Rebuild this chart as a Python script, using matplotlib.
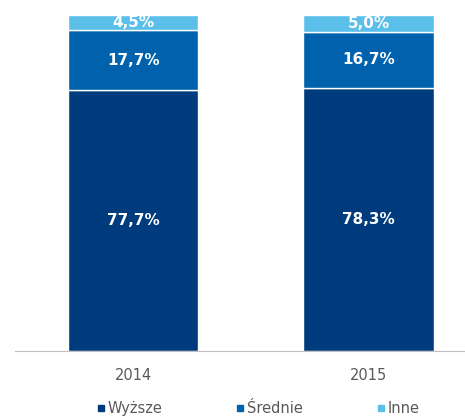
import numpy as np
import matplotlib.pyplot as plt
from matplotlib.lines import Line2D

years = ["2014", "2015"]
series = ["Wyższe", "Średnie", "Inne"]
wyzsze = [77.7, 78.3]
srednie = [17.7, 16.7]
inne = [4.5, 5.0]
colors = ["#003B7E", "#0062AC", "#5BBFEA"]

fig = plt.figure(figsize=(4.65, 4.18), dpi=100)
ax = fig.add_axes([15 / 465, 67 / 418, 450 / 465, 336 / 418])

x = np.arange(len(years))
bottom = np.zeros(len(years))
for vals, col in zip([wyzsze, srednie, inne], colors):
    vals = np.array(vals)
    ax.bar(x, vals, width=0.553, bottom=bottom, color=col, edgecolor="white", linewidth=1)
    for xi, b, v in zip(x, bottom, vals):
        ax.text(xi, b + v / 2, f"{v:.1f}%".replace(".", ","), ha="center", va="center",
                color="white", fontweight="bold", fontsize=11)
    bottom += vals

ax.set_xlim(-0.502, 1.41)
ax.set_ylim(0, 100)
ax.set_xticks(x)
ax.set_xticklabels(years, fontsize=10.5, color="#595959")
ax.tick_params(axis="x", length=0, pad=12)
ax.set_yticks([])
for s in ["top", "right", "left"]:
    ax.spines[s].set_visible(False)
ax.spines["bottom"].set_color("#BFBFBF")

handles = [Line2D([], [], marker="s", linestyle="none", color=c, markersize=5) for c in colors]
fig.legend(handles, series, loc="center", bbox_to_anchor=(0.555, 0.022), ncol=3, frameon=False,
           fontsize=10.5, labelcolor="#595959", handlelength=0.6, handletextpad=0.2,
           columnspacing=5.0)

fig.savefig("out.png", dpi=100)
